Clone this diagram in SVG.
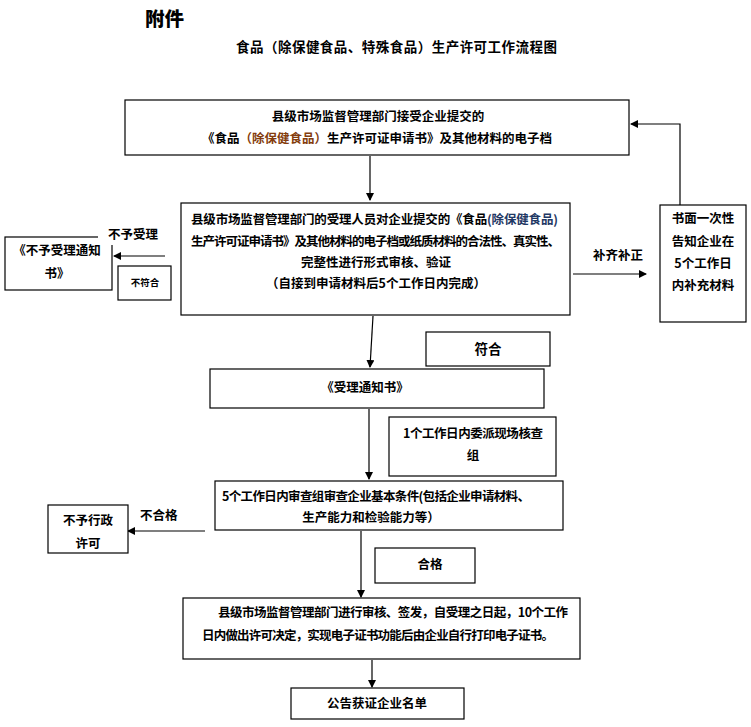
<svg xmlns="http://www.w3.org/2000/svg" width="751" height="727" viewBox="0 0 751 727">
<defs>
<marker id="ah" markerWidth="8" markerHeight="8" refX="7" refY="4" orient="auto" markerUnits="userSpaceOnUse">
<path d="M0,0 L8,4 L0,8 Z" fill="#000"/>
</marker>
<style>
.b{fill:#fff;stroke:#000;stroke-width:1.2}
.t{font-family:"Noto Sans CJK SC","Liberation Sans",sans-serif;font-weight:bold;font-size:12.5px;fill:#000}
.c{text-anchor:middle}
.l{fill:none;stroke:#000;stroke-width:1.2}
.a{fill:none;stroke:#000;stroke-width:1.2;marker-end:url(#ah)}
</style>
</defs>
<rect width="751" height="727" fill="#fff"/>
<g id="title">
<text class="t" x="145" y="26" style="font-size:19.5px;font-weight:900">附件</text>
<text class="t" x="236" y="52" textLength="321" lengthAdjust="spacing" style="font-size:13.5px">食品（除保健食品、特殊食品）生产许可工作流程图</text>
</g>
<g id="connectors">
<line class="a" x1="370" y1="156" x2="370" y2="200"/>
<polyline class="a" points="680,205 680,124 631,124"/>
<line class="a" x1="573" y1="274" x2="646" y2="274"/>
<line class="a" x1="165" y1="256" x2="114" y2="256"/>
<line class="a" x1="373" y1="316" x2="370" y2="367"/>
<line class="a" x1="369" y1="409" x2="369" y2="479"/>
<line class="a" x1="205" y1="531" x2="128" y2="531"/>
<line class="a" x1="361" y1="531" x2="361" y2="597"/>
<line class="a" x1="372" y1="660" x2="372" y2="687"/>
</g>
<g id="n1">
<rect class="b" x="125" y="100" width="504" height="55"/>
<text class="t c" x="378" y="121">县级市场监督管理部门接受企业提交的</text>
<text class="t" x="202" y="143">《食品<tspan fill="#843c0c">（除保健食品）</tspan>生产许可证申请书》及其他材料的电子档</text>
</g>
<g id="n2">
<rect class="b" x="181" y="203" width="389" height="112"/>
<text class="t" x="191" y="224" textLength="367" lengthAdjust="spacing">县级市场监督管理部门的受理人员对企业提交的《食品<tspan fill="#1f3864">(除保健食品)</tspan></text>
<text class="t" x="191" y="246" textLength="369" lengthAdjust="spacing">生产许可证申请书》及其他材料的电子档或纸质材料的合法性、真实性、</text>
<text class="t c" x="376" y="267">完整性进行形式审核、验证</text>
<text class="t c" x="376" y="288">（自接到申请材料后5个工作日内完成）</text>
</g>
<g id="lbl-bqbz">
<text class="t" x="593" y="260">补齐补正</text>
</g>
<g id="n3">
<rect class="b" x="660" y="205" width="86" height="117"/>
<text class="t c" x="703" y="223">书面一次性</text>
<text class="t c" x="703" y="246">告知企业在</text>
<text class="t c" x="703" y="268">5个工作日</text>
<text class="t c" x="703" y="290">内补充材料</text>
</g>
<g id="n4">
<rect class="b" x="5" y="237" width="107" height="53"/>
<rect x="98" y="224" width="60" height="21" fill="#fff"/>
<text class="t" x="108" y="239">不予受理</text>
<text class="t c" x="57" y="255">《不予受理通知</text>
<text class="t c" x="57" y="278">书》</text>
</g>
<g id="n5">
<rect class="b" x="118" y="266" width="53" height="34"/>
<text class="t c" x="145" y="286" style="font-size:9.5px">不符合</text>
</g>
<g id="n6">
<rect class="b" x="426" y="332" width="124" height="34"/>
<text class="t c" x="488" y="354" style="font-size:13.5px">符合</text>
</g>
<g id="n7">
<rect class="b" x="210" y="369" width="334" height="39"/>
<text class="t c" x="365" y="392">《受理通知书》</text>
</g>
<g id="n8">
<rect class="b" x="389" y="417" width="167" height="59"/>
<text class="t" x="403" y="438" textLength="140" lengthAdjust="spacing">1个工作日内委派现场核查</text>
<text class="t c" x="473" y="460">组</text>
</g>
<g id="n9">
<rect class="b" x="215" y="481" width="348" height="49"/>
<text class="t" x="222" y="501" textLength="308" lengthAdjust="spacing">5个工作日内审查组审查企业基本条件(包括企业申请材料、</text>
<text class="t c" x="371" y="522">生产能力和检验能力等）</text>
</g>
<g id="lbl-bhg">
<text class="t" x="140" y="520">不合格</text>
</g>
<g id="n10">
<rect class="b" x="48" y="505" width="80" height="48"/>
<text class="t c" x="88" y="525">不予行政</text>
<text class="t c" x="88" y="548">许可</text>
</g>
<g id="n11">
<rect class="b" x="375" y="548" width="100" height="35"/>
<text class="t c" x="430" y="569">合格</text>
</g>
<g id="n12">
<rect class="b" x="183" y="598" width="397" height="61"/>
<text class="t" x="218" y="617" textLength="350" lengthAdjust="spacing">县级市场监督管理部门进行审核、签发，自受理之日起，10个工作</text>
<text class="t" x="202" y="640" textLength="352" lengthAdjust="spacing">日内做出许可决定，实现电子证书功能后由企业自行打印电子证书。</text>
</g>
<g id="n13">
<rect class="b" x="291" y="688" width="173" height="31"/>
<text class="t c" x="377" y="708">公告获证企业名单</text>
</g>
</svg>
